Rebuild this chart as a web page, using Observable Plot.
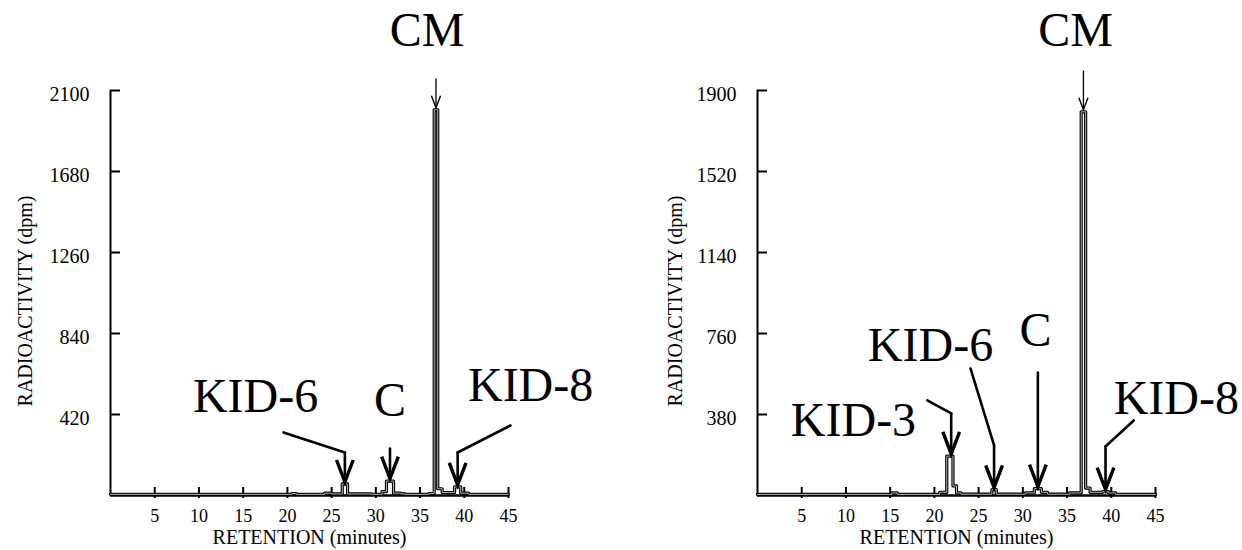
<!DOCTYPE html>
<html>
<head>
<meta charset="utf-8">
<script src="https://cdn.jsdelivr.net/npm/d3@7"></script>
<script src="https://cdn.jsdelivr.net/npm/@observablehq/plot@0.6"></script>
<style>
  body { margin: 0; background: #fff; }
  #wrap { display: flex; width: 1242px; height: 550px; overflow: hidden; }
  #wrap svg text { font-family: "Liberation Serif", "Times New Roman", serif; }
</style>
</head>
<body>
<div id="wrap"></div>
<script>
// ---------- data ----------
const xTicks = [5, 10, 15, 20, 25, 30, 35, 40, 45];
const yTicksA = [420, 840, 1260, 1680, 2100];
const yTicksB = [380, 760, 1140, 1520, 1900];
const xLabel = "RETENTION (minutes)";
const yLabel = "RADIOACTIVITY (dpm)";

// left chromatogram: fraction start time (min) and radioactivity (dpm), step trace
const timeA = [0, 20.5, 21, 24.2, 25, 26.2, 26.8, 29.5, 30.7, 31.2, 32.0, 32.8, 33.3, 36.0, 36.6, 37.0, 37.5, 38.9, 39.6, 40.5, 45];
const dpmA  = [6, 10, 6, 12, 8, 60, 8, 6, 20, 75, 12, 8, 6, 10, 2000, 35, 15, 45, 12, 6, 6];

// right chromatogram
const timeB = [0, 15.2, 15.8, 20.6, 21.4, 22.1, 22.5, 23, 26.5, 27.0, 30.3, 31.3, 32.1, 32.8, 35.3, 36.6, 37.1, 37.6, 39.0, 39.7, 40.5, 45];
const dpmB  = [5, 12, 5, 15, 185, 45, 12, 6, 28, 6, 12, 32, 15, 6, 12, 1800, 35, 15, 18, 12, 5, 5];

// peak labels (text anchored at time, dpm)
const labelsA = [
  {text: "CM", t: 35.8, v: 2410},
  {text: "KID-6", t: 16.4, v: 513},
  {text: "C", t: 31.6, v: 493},
  {text: "KID-8", t: 47.5, v: 570}
];
const labelsB = [
  {text: "CM", t: 35.96, v: 2182},
  {text: "KID-3", t: 10.85, v: 352},
  {text: "KID-6", t: 19.56, v: 704},
  {text: "C", t: 31.43, v: 774},
  {text: "KID-8", t: 47.35, v: 455}
];

// leader segments (time, dpm) and arrow tips
const leadersA = [
  {t1: 19.56, v1: 327, t2: 26.5, v2: 223},
  {t1: 26.5, v1: 223, t2: 26.5, v2: 70},
  {t1: 31.6, v1: 244, t2: 31.6, v2: 88},
  {t1: 45.23, v1: 363, t2: 39.25, v2: 223},
  {t1: 39.25, v1: 223, t2: 39.25, v2: 55}
];
const tipsA = [{t: 26.5, v: 70}, {t: 31.6, v: 88}, {t: 39.25, v: 55}];
const cmArrowA = [{t1: 36.8, v1: 2162, t2: 36.8, v2: 2010}];

const leadersB = [
  {t1: 19.2, v1: 446, t2: 21.9, v2: 385},
  {t1: 21.9, v1: 385, t2: 21.9, v2: 195},
  {t1: 24.08, v1: 596, t2: 26.75, v2: 235},
  {t1: 26.75, v1: 235, t2: 26.75, v2: 38},
  {t1: 31.7, v1: 577, t2: 31.7, v2: 42},
  {t1: 42.54, v1: 352, t2: 39.35, v2: 230},
  {t1: 39.35, v1: 230, t2: 39.35, v2: 28}
];
const tipsB = [{t: 21.9, v: 195}, {t: 26.75, v: 38}, {t: 31.7, v: 42}, {t: 39.35, v: 28}];
const cmArrowB = [{t1: 36.85, v1: 1994, t2: 36.85, v2: 1810}];

// ---------- drawing ----------
const FONT = "Liberation Serif";

// downward V arrowhead with its tip at the anchor point
const headSymbol = {
  draw(ctx, size) {
    const l = 2 * Math.sqrt(size / Math.PI);
    const w = l * 0.38;
    ctx.moveTo(-w, -l);
    ctx.lineTo(0, 0);
    ctx.lineTo(w, -l);
  }
};

function panel({time, dpm, yTicks, yMax, labels, leaders, tips, cmArrow, marginLeft, marginRight, yLabelDx}) {
  const trace = time.map((t, i) => ({t, v: dpm[i]}));
  return Plot.plot({
    width: 621,
    height: 550,
    marginTop: 90,
    marginBottom: 55,
    marginLeft,
    marginRight,
    x: {domain: [0, 45]},
    y: {domain: [0, yMax]},
    style: {fontFamily: FONT, background: "white", color: "black", overflow: "visible"},
    marks: [
      Plot.axisY({ticks: yTicks, tickSize: 0, tickPadding: 21, fontSize: 20, dy: 4, tickFormat: "d", label: null, fontFamily: FONT}),
      Plot.axisX({ticks: xTicks, tickSize: 0, tickPadding: 14, fontSize: 18, tickFormat: "d", label: null, fontFamily: FONT}),
      Plot.text([yLabel], {text: d => d, frameAnchor: "left", textAnchor: "middle", lineAnchor: "middle", rotate: -90, dx: yLabelDx, dy: 8, fontSize: 20, fontFamily: FONT}),
      Plot.text([xLabel], {text: d => d, frameAnchor: "bottom", textAnchor: "middle", lineAnchor: "middle", dy: 42, fontSize: 20, fontFamily: FONT}),
      Plot.ruleX([0], {stroke: "black", strokeWidth: 2}),
      Plot.ruleY(yTicks, {y: d => d, x1: 0, x2: 0, insetRight: -10, stroke: "black", strokeWidth: 2}),
      Plot.ruleX(xTicks, {x: d => d, y1: 0, y2: 0, insetTop: 3, insetBottom: 8, stroke: "black", strokeWidth: 2}),
      Plot.ruleY([0], {stroke: "black", strokeWidth: 2.5}),
      Plot.line(trace, {x: "t", y: "v", curve: "step-after", stroke: "black", strokeWidth: 3.2}),
      Plot.line(trace, {x: "t", y: "v", curve: "step-after", stroke: "#b4b4b4", strokeWidth: 1}),
      Plot.link(leaders, {x1: "t1", y1: "v1", x2: "t2", y2: "v2", stroke: "black", strokeWidth: 2.6, strokeLinecap: "round"}),
      Plot.dot(tips, {x: "t", y: "v", r: 11, symbol: headSymbol, stroke: "black", fill: "none", strokeWidth: 3.4, strokeLinejoin: "miter"}),
      Plot.link(cmArrow, {x1: "t1", y1: "v1", x2: "t2", y2: "v2", stroke: "black", strokeWidth: 1.3}),
      Plot.dot(cmArrow, {x: "t2", y: "v2", r: 6, symbol: headSymbol, stroke: "black", fill: "none", strokeWidth: 1.4, strokeLinejoin: "miter"}),
      Plot.text(labels, {x: "t", y: "v", text: "text", fontSize: 48, lineAnchor: "middle", textAnchor: "middle", fill: "black", fontFamily: FONT})
    ]
  });
}

const wrap = document.getElementById("wrap");
wrap.append(panel({
  time: timeA, dpm: dpmA, yTicks: yTicksA, yMax: 2100, labels: labelsA,
  leaders: leadersA, tips: tipsA, cmArrow: cmArrowA,
  marginLeft: 110, marginRight: 113, yLabelDx: -85
}));
wrap.append(panel({
  time: timeB, dpm: dpmB, yTicks: yTicksB, yMax: 1900, labels: labelsB,
  leaders: leadersB, tips: tipsB, cmArrow: cmArrowB,
  marginLeft: 136, marginRight: 87, yLabelDx: -82
}));
</script>
</body>
</html>
